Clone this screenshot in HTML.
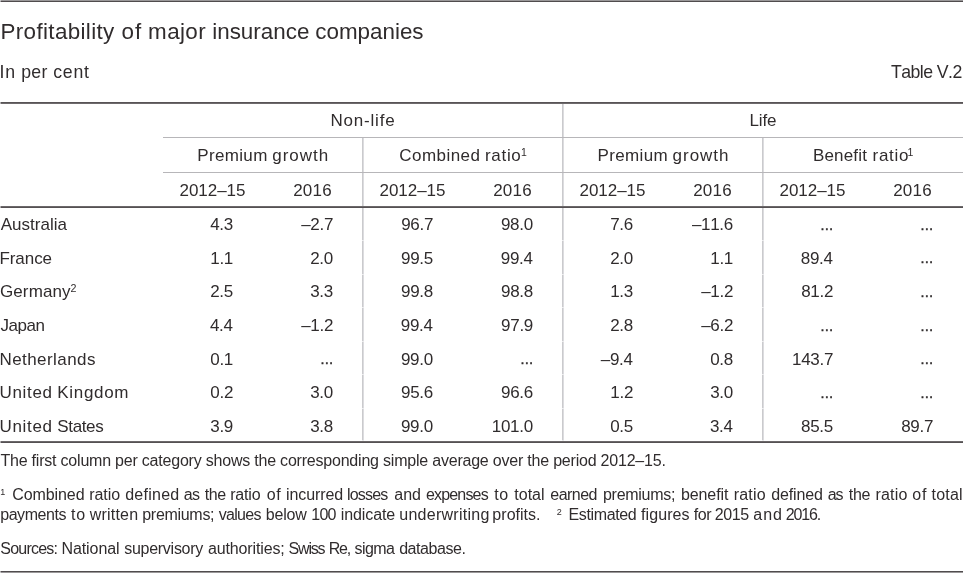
<!DOCTYPE html>
<html><head><meta charset="utf-8"><title>Profitability of major insurance companies</title>
<style>
html,body{margin:0;padding:0;background:#fff;}
body{width:963px;height:573px;overflow:hidden;}
svg{display:block;will-change:transform;}
text{font-family:"Liberation Sans",Arial,sans-serif;fill:#302c2d;font-kerning:none;}
</style></head><body>
<svg width="963" height="573" viewBox="0 0 963 573">
<g shape-rendering="crispEdges">
<rect x="1" y="0" width="962" height="1" fill="#9a9899"/>
<rect x="0" y="0" width="1" height="1" fill="#cccbcc"/>
<rect x="1" y="1" width="962" height="1" fill="#504c4e"/>
<rect x="0" y="1" width="1" height="1" fill="#a7a5a6"/>
<rect x="1" y="102" width="962" height="1" fill="#585456"/>
<rect x="0" y="102" width="1" height="1" fill="#aba9aa"/>
<rect x="1" y="103" width="962" height="1" fill="#6e6a6c"/>
<rect x="0" y="103" width="1" height="1" fill="#b6b4b5"/>
<rect x="562" y="104" width="1" height="337" fill="#cacacd"/>
<rect x="563" y="104" width="1" height="337" fill="#dcdcdf"/>
<rect x="362" y="138" width="1" height="303" fill="#cacacd"/>
<rect x="363" y="138" width="1" height="303" fill="#dcdcdf"/>
<rect x="762" y="138" width="1" height="303" fill="#cacacd"/>
<rect x="763" y="138" width="1" height="303" fill="#dcdcdf"/>
<rect x="163" y="137" width="800" height="1" fill="#b7b6b9"/>
<rect x="163" y="172" width="800" height="1" fill="#b7b6b9"/>
<rect x="1" y="206" width="962" height="1" fill="#6c686a"/>
<rect x="0" y="206" width="1" height="1" fill="#b5b3b4"/>
<rect x="1" y="207" width="962" height="1" fill="#555153"/>
<rect x="0" y="207" width="1" height="1" fill="#aaa8a9"/>
<rect x="163" y="240" width="800" height="1" fill="#ffffff"/>
<rect x="362" y="240" width="2" height="1" fill="#ececee"/>
<rect x="562" y="240" width="2" height="1" fill="#ececee"/>
<rect x="762" y="240" width="2" height="1" fill="#ececee"/>
<rect x="163" y="274" width="800" height="1" fill="#ffffff"/>
<rect x="362" y="274" width="2" height="1" fill="#ececee"/>
<rect x="562" y="274" width="2" height="1" fill="#ececee"/>
<rect x="762" y="274" width="2" height="1" fill="#ececee"/>
<rect x="163" y="307" width="800" height="1" fill="#ffffff"/>
<rect x="362" y="307" width="2" height="1" fill="#ececee"/>
<rect x="562" y="307" width="2" height="1" fill="#ececee"/>
<rect x="762" y="307" width="2" height="1" fill="#ececee"/>
<rect x="163" y="341" width="800" height="1" fill="#ffffff"/>
<rect x="362" y="341" width="2" height="1" fill="#ececee"/>
<rect x="562" y="341" width="2" height="1" fill="#ececee"/>
<rect x="762" y="341" width="2" height="1" fill="#ececee"/>
<rect x="163" y="374" width="800" height="1" fill="#ffffff"/>
<rect x="362" y="374" width="2" height="1" fill="#ececee"/>
<rect x="562" y="374" width="2" height="1" fill="#ececee"/>
<rect x="762" y="374" width="2" height="1" fill="#ececee"/>
<rect x="163" y="408" width="800" height="1" fill="#ffffff"/>
<rect x="362" y="408" width="2" height="1" fill="#ececee"/>
<rect x="562" y="408" width="2" height="1" fill="#ececee"/>
<rect x="762" y="408" width="2" height="1" fill="#ececee"/>
<rect x="163" y="440" width="800" height="1" fill="#ffffff"/>
<rect x="362" y="440" width="2" height="1" fill="#ececee"/>
<rect x="562" y="440" width="2" height="1" fill="#ececee"/>
<rect x="762" y="440" width="2" height="1" fill="#ececee"/>
<rect x="1" y="441" width="962" height="1" fill="#6c686a"/>
<rect x="0" y="441" width="1" height="1" fill="#b5b3b4"/>
<rect x="1" y="442" width="962" height="1" fill="#555153"/>
<rect x="0" y="442" width="1" height="1" fill="#aaa8a9"/>
<rect x="1" y="571" width="962" height="1" fill="#504c4e"/>
<rect x="0" y="571" width="1" height="1" fill="#a7a5a6"/>
<rect x="1" y="572" width="962" height="1" fill="#9a9899"/>
<rect x="0" y="572" width="1" height="1" fill="#cccbcc"/>
</g>
<g>
<text x="0.46" y="38.70" font-size="22.4" letter-spacing="0.361">Profitability</text>
<text x="121.62" y="38.70" font-size="22.4" letter-spacing="1.000">of</text>
<text x="148.11" y="38.70" font-size="22.4" letter-spacing="0.387">major</text>
<text x="212.20" y="38.70" font-size="22.4" letter-spacing="0.009">insurance</text>
<text x="315.25" y="38.70" font-size="22.4" letter-spacing="0.004">companies</text>
<text x="-0.43" y="77.70" font-size="17.7" letter-spacing="0.821">In</text>
<text x="21.16" y="77.70" font-size="17.7" letter-spacing="0.376">per</text>
<text x="53.25" y="77.70" font-size="17.7" letter-spacing="0.742">cent</text>
<text x="890.90" y="77.90" font-size="17.7" letter-spacing="-0.534">Table V.2</text>
<text x="330.41" y="126.10" font-size="17" letter-spacing="0.810">Non-life</text>
<text x="749.51" y="126.10" font-size="17" letter-spacing="-0.120">Life</text>
<text x="197.21" y="160.70" font-size="17" letter-spacing="0.351">Premium</text>
<text x="272.29" y="160.70" font-size="17" letter-spacing="0.979">growth</text>
<text x="597.51" y="160.70" font-size="17" letter-spacing="0.351">Premium</text>
<text x="672.59" y="160.70" font-size="17" letter-spacing="0.979">growth</text>
<text x="399.24" y="160.70" font-size="17" letter-spacing="0.467">Combined</text>
<text x="484.97" y="160.70" font-size="17" letter-spacing="0.693">ratio</text>
<text x="521.00" y="155.50" font-size="10.5">1</text>
<text x="812.91" y="160.70" font-size="17" letter-spacing="0.182">Benefit</text>
<text x="872.57" y="160.70" font-size="17" letter-spacing="0.693">ratio</text>
<text x="907.60" y="155.50" font-size="10.5">1</text>
<text x="179.55" y="195.80" font-size="17" letter-spacing="-0.044">2012–15</text>
<text x="293.15" y="195.60" font-size="17" letter-spacing="0.261">2016</text>
<text x="379.55" y="195.80" font-size="17" letter-spacing="-0.044">2012–15</text>
<text x="493.15" y="195.60" font-size="17" letter-spacing="0.261">2016</text>
<text x="579.55" y="195.80" font-size="17" letter-spacing="-0.044">2012–15</text>
<text x="693.15" y="195.60" font-size="17" letter-spacing="0.261">2016</text>
<text x="779.55" y="195.80" font-size="17" letter-spacing="-0.044">2012–15</text>
<text x="893.15" y="195.60" font-size="17" letter-spacing="0.261">2016</text>
<text x="0.77" y="230.00" font-size="17" letter-spacing="-0.001">Australia</text>
<text x="210.21" y="230.00" font-size="17" letter-spacing="-0.300">4.3</text>
<text x="301.17" y="230.00" font-size="17" letter-spacing="-0.300">–2.7</text>
<text x="401.17" y="230.00" font-size="17" letter-spacing="-0.300">96.7</text>
<text x="500.98" y="230.00" font-size="17" letter-spacing="-0.300">98.0</text>
<text x="610.21" y="230.00" font-size="17" letter-spacing="-0.300">7.6</text>
<text x="691.91" y="230.00" font-size="17" letter-spacing="-0.300">–11.6</text>
<text x="820.10" y="229.65" font-size="13.6" stroke="#302c2d" stroke-width="0.5">…</text>
<text x="920.10" y="229.65" font-size="13.6" stroke="#302c2d" stroke-width="0.5">…</text>
<text x="-0.59" y="263.65" font-size="17" letter-spacing="-0.052">France</text>
<text x="210.30" y="263.65" font-size="17" letter-spacing="-0.300">1.1</text>
<text x="310.13" y="263.65" font-size="17" letter-spacing="-0.300">2.0</text>
<text x="401.03" y="263.65" font-size="17" letter-spacing="-0.300">99.5</text>
<text x="500.81" y="263.65" font-size="17" letter-spacing="-0.300">99.4</text>
<text x="610.13" y="263.65" font-size="17" letter-spacing="-0.300">2.0</text>
<text x="710.30" y="263.65" font-size="17" letter-spacing="-0.300">1.1</text>
<text x="800.81" y="263.65" font-size="17" letter-spacing="-0.300">89.4</text>
<text x="920.10" y="263.30" font-size="13.6" stroke="#302c2d" stroke-width="0.5">…</text>
<text x="-0.05" y="297.30" font-size="17" letter-spacing="0.113">Germany</text>
<text x="70.56" y="291.80" font-size="10.7">2</text>
<text x="210.18" y="297.30" font-size="17" letter-spacing="-0.300">2.5</text>
<text x="310.21" y="297.30" font-size="17" letter-spacing="-0.300">3.3</text>
<text x="401.05" y="297.30" font-size="17" letter-spacing="-0.300">99.8</text>
<text x="501.05" y="297.30" font-size="17" letter-spacing="-0.300">98.8</text>
<text x="610.21" y="297.30" font-size="17" letter-spacing="-0.300">1.3</text>
<text x="701.17" y="297.30" font-size="17" letter-spacing="-0.300">–1.2</text>
<text x="801.17" y="297.30" font-size="17" letter-spacing="-0.300">81.2</text>
<text x="920.10" y="296.95" font-size="13.6" stroke="#302c2d" stroke-width="0.5">…</text>
<text x="0.53" y="330.95" font-size="17" letter-spacing="-0.462">Japan</text>
<text x="209.97" y="330.95" font-size="17" letter-spacing="-0.300">4.4</text>
<text x="301.17" y="330.95" font-size="17" letter-spacing="-0.300">–1.2</text>
<text x="400.81" y="330.95" font-size="17" letter-spacing="-0.300">99.4</text>
<text x="501.12" y="330.95" font-size="17" letter-spacing="-0.300">97.9</text>
<text x="610.21" y="330.95" font-size="17" letter-spacing="-0.300">2.8</text>
<text x="701.17" y="330.95" font-size="17" letter-spacing="-0.300">–6.2</text>
<text x="820.10" y="330.60" font-size="13.6" stroke="#302c2d" stroke-width="0.5">…</text>
<text x="920.10" y="330.60" font-size="13.6" stroke="#302c2d" stroke-width="0.5">…</text>
<text x="-0.59" y="364.60" font-size="17" letter-spacing="0.434">Netherlands</text>
<text x="210.30" y="364.60" font-size="17" letter-spacing="-0.300">0.1</text>
<text x="320.10" y="364.25" font-size="13.6" stroke="#302c2d" stroke-width="0.5">…</text>
<text x="400.98" y="364.60" font-size="17" letter-spacing="-0.300">99.0</text>
<text x="520.10" y="364.25" font-size="13.6" stroke="#302c2d" stroke-width="0.5">…</text>
<text x="600.81" y="364.60" font-size="17" letter-spacing="-0.300">–9.4</text>
<text x="710.21" y="364.60" font-size="17" letter-spacing="-0.300">0.8</text>
<text x="792.01" y="364.60" font-size="17" letter-spacing="-0.300">143.7</text>
<text x="920.10" y="364.25" font-size="13.6" stroke="#302c2d" stroke-width="0.5">…</text>
<text x="-0.51" y="398.25" font-size="17" letter-spacing="0.673">United</text>
<text x="57.31" y="398.25" font-size="17" letter-spacing="0.670">Kingdom</text>
<text x="210.32" y="398.25" font-size="17" letter-spacing="-0.300">0.2</text>
<text x="310.13" y="398.25" font-size="17" letter-spacing="-0.300">3.0</text>
<text x="401.06" y="398.25" font-size="17" letter-spacing="-0.300">95.6</text>
<text x="501.06" y="398.25" font-size="17" letter-spacing="-0.300">96.6</text>
<text x="610.32" y="398.25" font-size="17" letter-spacing="-0.300">1.2</text>
<text x="710.13" y="398.25" font-size="17" letter-spacing="-0.300">3.0</text>
<text x="820.10" y="397.90" font-size="13.6" stroke="#302c2d" stroke-width="0.5">…</text>
<text x="920.10" y="397.90" font-size="13.6" stroke="#302c2d" stroke-width="0.5">…</text>
<text x="-0.51" y="431.90" font-size="17" letter-spacing="0.673">United</text>
<text x="57.33" y="431.90" font-size="17" letter-spacing="-0.362">States</text>
<text x="210.27" y="431.90" font-size="17" letter-spacing="-0.300">3.9</text>
<text x="310.21" y="431.90" font-size="17" letter-spacing="-0.300">3.8</text>
<text x="400.98" y="431.90" font-size="17" letter-spacing="-0.300">99.0</text>
<text x="491.82" y="431.90" font-size="17" letter-spacing="-0.300">101.0</text>
<text x="610.18" y="431.90" font-size="17" letter-spacing="-0.300">0.5</text>
<text x="709.97" y="431.90" font-size="17" letter-spacing="-0.300">3.4</text>
<text x="801.03" y="431.90" font-size="17" letter-spacing="-0.300">85.5</text>
<text x="901.17" y="431.90" font-size="17" letter-spacing="-0.300">89.7</text>
<text x="0.44" y="466.40" font-size="16.0" letter-spacing="-0.211">The first column per category shows the corresponding simple average over the period 2012–15.</text>
<text x="0.21" y="495.20" font-size="9">1</text>
<text x="12.19" y="500.30" font-size="16.0" letter-spacing="-0.084">Combined</text>
<text x="89.14" y="500.30" font-size="16.0" letter-spacing="0.002">ratio</text>
<text x="125.23" y="500.30" font-size="16.0" letter-spacing="0.252">defined</text>
<text x="183.72" y="500.30" font-size="16.0" letter-spacing="-0.641">as</text>
<text x="204.66" y="500.30" font-size="16.0" letter-spacing="-0.345">the</text>
<text x="230.14" y="500.30" font-size="16.0" letter-spacing="-0.173">ratio</text>
<text x="266.73" y="500.30" font-size="16.0" letter-spacing="0.605">of</text>
<text x="285.93" y="500.30" font-size="16.0" letter-spacing="-0.072">incurred</text>
<text x="346.92" y="500.30" font-size="16.0" letter-spacing="-0.779">losses</text>
<text x="394.32" y="500.30" font-size="16.0" letter-spacing="-0.042">and</text>
<text x="425.92" y="500.30" font-size="16.0" letter-spacing="-0.819">expenses</text>
<text x="494.26" y="500.30" font-size="16.0" letter-spacing="0.470">to</text>
<text x="514.26" y="500.30" font-size="16.0" letter-spacing="0.018">total</text>
<text x="550.32" y="500.30" font-size="16.0" letter-spacing="-0.522">earned</text>
<text x="602.97" y="500.30" font-size="16.0" letter-spacing="-0.276">premiums;</text>
<text x="680.97" y="500.30" font-size="16.0" letter-spacing="-0.098">benefit</text>
<text x="733.84" y="500.30" font-size="16.0" letter-spacing="0.152">ratio</text>
<text x="771.23" y="500.30" font-size="16.0" letter-spacing="-0.115">defined</text>
<text x="827.85" y="500.30" font-size="16.0" letter-spacing="-1.200">as</text>
<text x="848.76" y="500.30" font-size="16.0" letter-spacing="-0.245">the</text>
<text x="875.54" y="500.30" font-size="16.0" letter-spacing="0.177">ratio</text>
<text x="912.33" y="500.30" font-size="16.0" letter-spacing="0.805">of</text>
<text x="931.56" y="500.30" font-size="16.0" letter-spacing="0.193">total</text>
<text x="0.17" y="519.90" font-size="16.0" letter-spacing="-0.423">payments</text>
<text x="70.89" y="519.90" font-size="16.0" letter-spacing="1.000">to</text>
<text x="89.72" y="519.90" font-size="16.0" letter-spacing="0.198">written</text>
<text x="142.27" y="519.90" font-size="16.0" letter-spacing="-0.301">premiums;</text>
<text x="218.65" y="519.90" font-size="16.0" letter-spacing="-0.703">values</text>
<text x="265.67" y="519.90" font-size="16.0" letter-spacing="-0.153">below</text>
<text x="311.28" y="519.90" font-size="16.0" letter-spacing="-0.776">100</text>
<text x="340.83" y="519.90" font-size="16.0" letter-spacing="-0.110">indicate</text>
<text x="399.26" y="519.90" font-size="16.0" letter-spacing="0.274">underwriting</text>
<text x="492.37" y="519.90" font-size="16.0" letter-spacing="0.025">profits.</text>
<text x="556.85" y="514.90" font-size="9">2</text>
<text x="568.49" y="519.90" font-size="16.0" letter-spacing="-0.362">Estimated</text>
<text x="641.07" y="519.90" font-size="16.0" letter-spacing="0.080">figures</text>
<text x="693.77" y="519.90" font-size="16.0" letter-spacing="-0.390">for</text>
<text x="714.80" y="519.90" font-size="16.0" letter-spacing="-0.439">2015</text>
<text x="753.28" y="519.90" font-size="16.0" letter-spacing="1.000">and</text>
<text x="785.70" y="519.90" font-size="16.0" letter-spacing="-1.118">2016.</text>
<text x="0.27" y="553.70" font-size="16.0" letter-spacing="-0.765">Sources:</text>
<text x="61.49" y="553.70" font-size="16.0" letter-spacing="-0.089">National</text>
<text x="124.15" y="553.70" font-size="16.0" letter-spacing="-0.263">supervisory</text>
<text x="208.02" y="553.70" font-size="16.0" letter-spacing="-0.141">authorities;</text>
<text x="288.59" y="553.70" font-size="16.0" letter-spacing="-1.200">Swiss</text>
<text x="328.66" y="553.70" font-size="16.0" letter-spacing="-1.200">Re,</text>
<text x="354.55" y="553.70" font-size="16.0" letter-spacing="-0.609">sigma</text>
<text x="399.13" y="553.70" font-size="16.0" letter-spacing="-0.444">database.</text>
</g>
</svg>
</body></html>
